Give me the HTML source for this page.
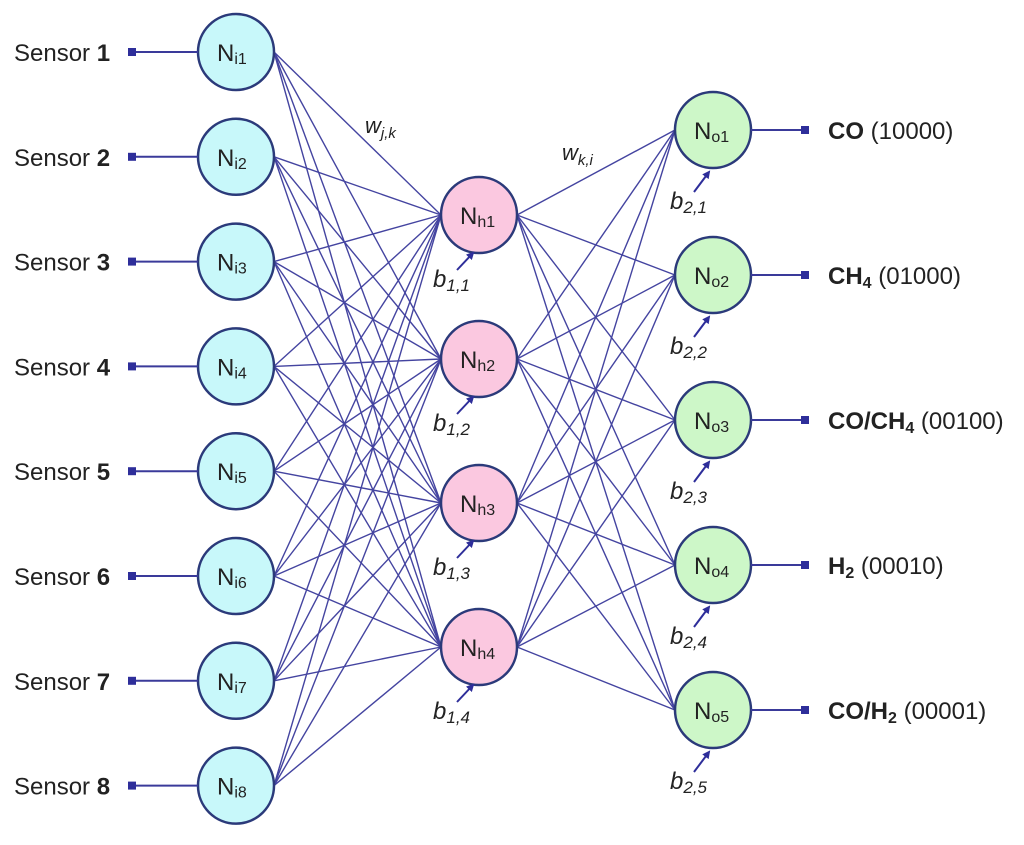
<!DOCTYPE html>
<html><head><meta charset="utf-8"><style>
html,body{margin:0;padding:0;background:#fff;}
svg text{font-family:"Liberation Sans",sans-serif;fill:#222;}
</style></head><body>
<svg width="1024" height="840" viewBox="0 0 1024 840" xmlns="http://www.w3.org/2000/svg">
<defs><marker id="ar" markerWidth="8" markerHeight="8" refX="6" refY="4" orient="auto" markerUnits="userSpaceOnUse"><path d="M0,0 L8,4 L0,8 z" fill="#2e2e9a"/></marker></defs>
<g id="lines" stroke="#4444a0" stroke-width="1.4" fill="none"></g>
<g id="nodes"></g>
<text x="365" y="133" font-size="22" font-style="italic">w<tspan font-size="15" dy="5">j,k</tspan></text>
<text x="562" y="160" font-size="22" font-style="italic">w<tspan font-size="15" dy="5">k,i</tspan></text>
<script>
var NS="http://www.w3.org/2000/svg",L=document.getElementById('lines'),N=document.getElementById('nodes'),S=document.querySelector('svg');
function el(t,a,p){var e=document.createElementNS(NS,t);for(var k in a)e.setAttribute(k,a[k]);(p||S).appendChild(e);return e;}
var R=38,ix=236,hx=479,ox=713;
var iy=[],hy=[215,359,503,647],oy=[130,275,420,565,710];
for(var i=0;i<8;i++)iy.push(52+i*104.8);
iy.forEach(function(y){hy.forEach(function(h){el('line',{x1:ix+R,y1:y,x2:hx-R,y2:h},L);});});
hy.forEach(function(h){oy.forEach(function(o){el('line',{x1:hx+R,y1:h,x2:ox-R,y2:o},L);});});
function node(x,y,fill,main,sub){el('circle',{cx:x,cy:y,r:R,fill:fill,stroke:'#2b3a7a','stroke-width':2.5},N);
var t=el('text',{x:x-19,y:y+9,'font-size':24},N);t.textContent=main;var s=el('tspan',{'font-size':16,dy:3},t);s.textContent=sub;}
iy.forEach(function(y,i){
 el('line',{x1:133,y1:y,x2:ix-R,y2:y,stroke:'#3a3a9a','stroke-width':2});
 el('rect',{x:128,y:y-4,width:8,height:8,fill:'#2e2e9a'});
 var t=el('text',{x:14,y:y+9,'font-size':24});t.textContent='Sensor ';var b=el('tspan',{'font-weight':'bold'},t);b.textContent=(i+1);
 node(ix,y,'#c8f8fa','N','i'+(i+1));});
hy.forEach(function(y,i){node(hx,y,'#fbc8e0','N','h'+(i+1));
 el('line',{x1:457,y1:y+55,x2:473,y2:y+38,stroke:'#2e2e9a','stroke-width':2,'marker-end':'url(#ar)'});
 var t=el('text',{x:433,y:y+72,'font-size':24,'font-style':'italic'});t.textContent='b';var s=el('tspan',{'font-size':17,dy:4},t);s.textContent='1,'+(i+1);});
var lab=[['CO',' (10000)'],['CH','4',' (01000)'],['CO/CH','4',' (00100)'],['H','2',' (00010)'],['CO/H','2',' (00001)']];
oy.forEach(function(y,i){node(ox,y,'#cdf7c8','N','o'+(i+1));
 el('line',{x1:ox+R,y1:y,x2:805,y2:y,stroke:'#3a3a9a','stroke-width':2});
 el('rect',{x:801,y:y-4,width:8,height:8,fill:'#2e2e9a'});
 el('line',{x1:694,y1:y+62,x2:709,y2:y+42,stroke:'#2e2e9a','stroke-width':2,'marker-end':'url(#ar)'});
 var t=el('text',{x:670,y:y+79,'font-size':24,'font-style':'italic'});t.textContent='b';var s=el('tspan',{'font-size':17,dy:4},t);s.textContent='2,'+(i+1);
 var q=lab[i],tt=el('text',{x:828,y:y+9,'font-size':24});
 var a=el('tspan',{'font-weight':'bold'},tt);a.textContent=q[0];
 if(q.length==3){var sb=el('tspan',{'font-weight':'bold','font-size':16,dy:4},tt);sb.textContent=q[1];var r=el('tspan',{dy:-4},tt);r.textContent=q[2];}
 else{var r2=el('tspan',{},tt);r2.textContent=q[1];}
});
</script>
</svg>
</body></html>
